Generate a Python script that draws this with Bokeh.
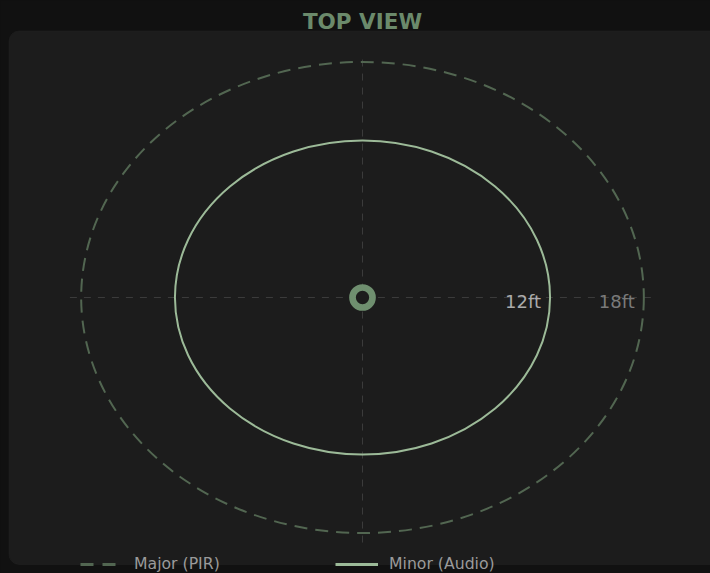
from bokeh.plotting import figure
from bokeh.models import BoxAnnotation, Legend, LegendItem, Label
from bokeh.core.properties import value
from bokeh.embed import file_html
from bokeh.resources import INLINE

# ---- data ----
title_text = "TOP VIEW"
series_names = ["Major (PIR)", "Minor (Audio)"]
ranges_ft = [18, 12]
range_labels = ["18ft", "12ft"]

# ---- styles ----
PAGE_BG = "#111111"
PANEL_BG = "#1c1c1c"
PANEL_BORDER = "#2b2b2b"
MAJOR_COLOR = "#526651"
MINOR_COLOR = "#9cba98"
RING_COLOR = "#6f8f6f"
TITLE_COLOR = "#6b8a6b"
CROSS_COLOR = "#3b3b3b"
LABEL_COLORS = ["#7a7a7a", "#ababab"]
FONT = "DejaVu Sans"

W, H = 710, 573
SX, SY = 15.63, 13.09      # px per ft
CX, CY = 362, 297          # centre in page px (from top-left)

x0 = -CX / SX
x1 = (W - CX) / SX
y1 = CY / SY
y0 = -(H - CY) / SY


def px2x(px):
    return x0 + px / SX


def py2y(py):
    return y1 - py / SY


p = figure(width=W, height=H, x_range=(x0, x1), y_range=(y0, y1),
           output_backend="svg", toolbar_location=None, min_border=0,
           x_axis_type=None, y_axis_type=None,
           background_fill_color=PAGE_BG, border_fill_color=PAGE_BG,
           outline_line_color=None)
p.grid.visible = False

panel = BoxAnnotation(left=px2x(8.5), right=px2x(W + 20), top=py2y(30.5), bottom=py2y(564),
                      fill_color=PANEL_BG, fill_alpha=1, line_color=PANEL_BORDER,
                      line_width=1, border_radius=10, level="underlay")
p.add_layout(panel)

# crosshair
ext = max(ranges_ft) * 1.04
p.segment(x0=[-ext, 0], y0=[0, -ext], x1=[ext, 0], y1=[0, ext],
          line_color=CROSS_COLOR, line_width=1, line_dash="7 7")

# ellipses
p.ellipse(x=[0], y=[0], width=[2 * ranges_ft[0]], height=[2 * ranges_ft[0]],
          fill_color=None, line_color=MAJOR_COLOR, line_width=2, line_dash="13 8")
p.ellipse(x=[0], y=[0], width=[2 * ranges_ft[1]], height=[2 * ranges_ft[1]],
          fill_color=None, line_color=MINOR_COLOR, line_width=2)

# range labels
p.text(x=ranges_ft, y=[0, 0], text=range_labels, text_color=LABEL_COLORS,
       text_align="right", text_baseline="middle", x_offset=-9, y_offset=4,
       text_font=value(FONT), text_font_size="18px")

# centre ring
p.scatter(x=[0], y=[0], size=20, marker="circle", fill_color=PANEL_BG,
          line_color=RING_COLOR, line_width=6.7)

# title
p.add_layout(Label(x=0, y=py2y(21), text=title_text, text_align="center",
                   text_baseline="middle", text_color=TITLE_COLOR,
                   text_font=FONT, text_font_style="bold",
                   text_font_size="21.5px"))

# legend (proxy lines kept outside the visible range)
off_x = [x1 + 5, x1 + 6]
r_major = p.line(x=off_x, y=[0, 0], line_color=MAJOR_COLOR, line_width=3, line_dash="13 9")
r_minor = p.line(x=off_x, y=[0, 0], line_color=MINOR_COLOR, line_width=3)
legend = Legend(items=[LegendItem(label=series_names[0], renderers=[r_major]),
                       LegendItem(label=series_names[1], renderers=[r_minor])],
                orientation="horizontal", location=(80, 0),
                background_fill_alpha=0, border_line_color=None,
                padding=0, margin=0, spacing=0,
                glyph_width=43, glyph_height=16, label_standoff=11,
                label_width=201, label_height=16,
                label_text_color="#9a9a9a", label_text_font=FONT,
                label_text_font_size="15.7px")
p.add_layout(legend)

html = file_html(p, INLINE).replace(
    "<head>", "<head><style>html,body{background:#111111;}</style>", 1)
open("out.html", "w").write(html)
